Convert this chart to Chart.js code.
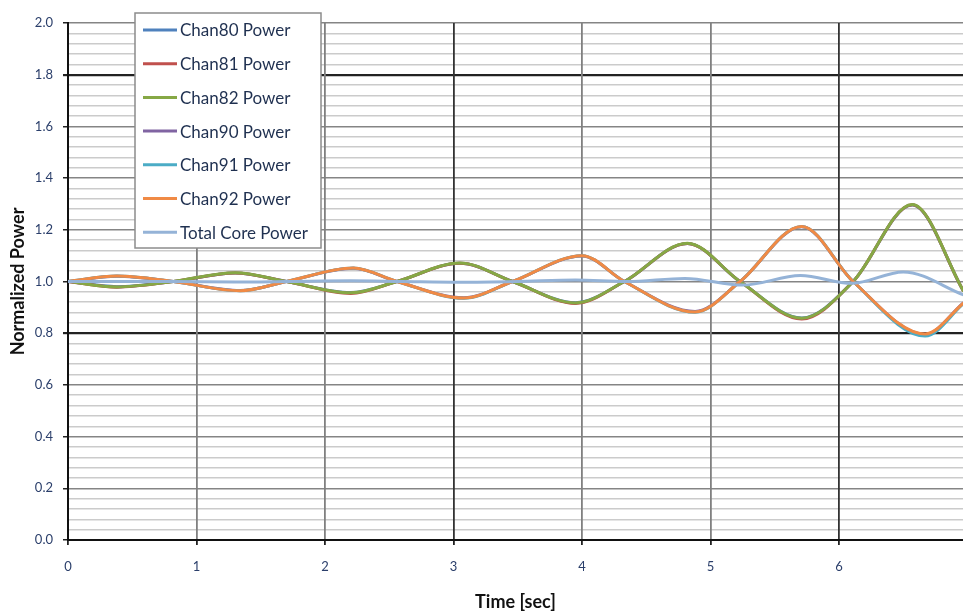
<!DOCTYPE html>
<html>
<head>
<title>Normalized Power</title>
<script src="https://cdn.jsdelivr.net/npm/chart.js@4.4.1/dist/chart.umd.min.js"></script>
<style>
body { margin: 0; background: #fff; }
</style>
</head>
<body>
<canvas id="powerChart" width="963" height="613"></canvas>
<script>
// series (time in sec, normalized power)
var seriesNames = ["Chan80 Power", "Chan81 Power", "Chan82 Power", "Chan90 Power", "Chan91 Power", "Chan92 Power", "Total Core Power"];
var seriesColors = ["#4F81BD", "#C0504D", "#86A845", "#8064A2", "#4BACC6", "#F08A45", "#95B3D7"];

// channels 80-82 (in phase)
var timeA  = [0, 0.38, 0.82, 1.30, 1.70, 2.20, 2.56, 3.05, 3.46, 3.95, 4.33, 4.82, 5.23, 5.71, 6.11, 6.57, 6.97];
var chan80 = [1.0, 0.980, 1.0, 1.033, 1.0, 0.957, 1.0, 1.071, 1.0, 0.918, 1.0, 1.147, 1.0, 0.859, 1.0, 1.296, 0.962];
var chan81 = [1.0, 0.978, 1.0, 1.033, 1.0, 0.954, 1.0, 1.071, 1.0, 0.915, 1.0, 1.147, 1.0, 0.855, 1.0, 1.297, 0.962];
var chan82 = [1.0, 0.979, 1.0, 1.034, 1.0, 0.956, 1.0, 1.072, 1.0, 0.917, 1.0, 1.148, 1.0, 0.858, 1.0, 1.298, 0.962];

// channels 90-92 (opposite phase)
var timeB  = [0, 0.38, 0.82, 1.34, 1.70, 2.22, 2.56, 3.08, 3.46, 4.00, 4.33, 4.88, 5.23, 5.71, 6.11, 6.67, 6.97];
var chan90 = [1.0, 1.020, 1.0, 0.965, 1.0, 1.051, 1.0, 0.937, 1.0, 1.099, 1.0, 0.884, 1.0, 1.212, 1.0, 0.796, 0.918];
var chan91 = [1.0, 1.021, 1.0, 0.964, 1.0, 1.052, 1.0, 0.935, 1.0, 1.100, 1.0, 0.881, 1.0, 1.213, 1.0, 0.789, 0.915];
var chan92 = [1.0, 1.021, 1.0, 0.964, 1.0, 1.052, 1.0, 0.936, 1.0, 1.100, 1.0, 0.882, 1.0, 1.213, 1.0, 0.797, 0.917];

// total core
var timeT     = [0, 0.40, 0.80, 1.30, 1.70, 2.20, 2.60, 3.05, 3.50, 3.95, 4.35, 4.80, 5.25, 5.70, 6.10, 6.50, 6.97];
var totalCore = [1.0, 1.0, 1.0, 0.998, 1.0, 1.003, 1.0, 0.997, 1.0, 1.006, 1.0, 1.012, 0.986, 1.023, 0.993, 1.037, 0.948];

function toPoints(xs, ys) {
    return ys.map(function(v, i) { return { x: xs[i], y: v }; });
}

var seriesData = [
    toPoints(timeA, chan80), toPoints(timeA, chan81), toPoints(timeA, chan82),
    toPoints(timeB, chan90), toPoints(timeB, chan91), toPoints(timeB, chan92),
    toPoints(timeT, totalCore)
];

var datasets = [];
for (var i = 0; i < seriesNames.length; i++) {
    datasets.push({
        label: seriesNames[i],
        data: seriesData[i],
        borderColor: seriesColors[i],
        backgroundColor: seriesColors[i],
        borderWidth: 3,
        pointRadius: 0,
        cubicInterpolationMode: 'monotone',
        order: seriesNames.length - i   // later series on top, like Excel
    });
}

function isMajor(v, step) {
    var r = v / step;
    return Math.abs(r - Math.round(r)) < 1e-6;
}

// legend box sitting inside the plot
var boxLegend = {
    id: 'boxLegend',
    afterDraw: function(chart) {
        var ctx = chart.ctx;
        ctx.save();
        ctx.fillStyle = '#fff';
        ctx.fillRect(135, 13, 186, 235);
        ctx.strokeStyle = '#8c8c8c';
        ctx.lineWidth = 1.5;
        ctx.strokeRect(135, 13, 186, 235);
        ctx.font = '17px Lato';
        ctx.textBaseline = 'middle';
        for (var i = 0; i < seriesNames.length; i++) {
            var y = 30 + i * 33.7;
            ctx.strokeStyle = seriesColors[i];
            ctx.lineWidth = 3;
            ctx.beginPath();
            ctx.moveTo(143, y);
            ctx.lineTo(177, y);
            ctx.stroke();
            ctx.fillStyle = '#1f3050';
            ctx.fillText(seriesNames[i], 180, y + 1);
        }
        ctx.restore();
    }
};

var ctx = document.getElementById('powerChart');
new Chart(ctx, {
    type: 'line',
    data: { datasets: datasets },
    options: {
        responsive: false,
        animation: false,
        layout: { padding: { top: 23, right: 0, left: 0, bottom: 0 } },
        plugins: { legend: { display: false }, tooltip: { enabled: false } },
        scales: {
            y: {
                min: 0,
                max: 2.0,
                afterFit: function(s) { s.width = 68; },
                border: { color: '#111', width: 2 },
                grid: {
                    drawTicks: true,
                    tickLength: 5,
                    tickColor: function(c) { return isMajor(c.tick.value, 0.2) ? '#222' : 'rgba(0,0,0,0)'; },
                    lineWidth: function(c) {
                        var v = c.tick.value;
                        if (Math.abs(v - 0.8) < 1e-6 || Math.abs(v - 1.8) < 1e-6) return 2.2;
                        return 1.5;
                    },
                    color: function(c) {
                        var v = c.tick.value;
                        if (Math.abs(v - 0.8) < 1e-6 || Math.abs(v - 1.8) < 1e-6) return '#222';
                        return isMajor(v, 0.2) ? '#858585' : '#cbcbcb';
                    }
                },
                ticks: {
                    stepSize: 0.04,
                    autoSkip: false,
                    padding: 10,
                    color: '#2b3f6b',
                    font: { family: 'Lato', size: 13 },
                    callback: function(v) { return isMajor(v, 0.2) ? v.toFixed(1) : ''; }
                },
                title: {
                    display: true,
                    text: 'Normalized Power',
                    color: '#111',
                    font: { family: 'Lato', size: 18, weight: 'bold' },
                    padding: { top: 7, bottom: 0 }
                }
            },
            x: {
                type: 'linear',
                min: 0,
                max: 6.965,
                afterFit: function(s) { s.height = 73; },
                border: { color: '#111', width: 2 },
                grid: {
                    drawTicks: true,
                    tickLength: 5,
                    tickColor: '#222',
                    lineWidth: function(c) { return isMajor(c.tick.value, 1) ? 1.8 : 0; },
                    color: function(c) {
                        var v = c.tick.value;
                        if (!isMajor(v, 1)) return 'rgba(0,0,0,0)';
                        return (Math.round(v) === 3 || Math.round(v) === 6) ? '#333' : '#808080';
                    }
                },
                ticks: {
                    stepSize: 0.2,
                    autoSkip: false,
                    includeBounds: false,
                    maxRotation: 0,
                    padding: 14,
                    color: '#2b3f6b',
                    font: { family: 'Lato', size: 13 },
                    callback: function(v) { return isMajor(v, 1) ? String(Math.round(v)) : ''; }
                },
                title: {
                    display: true,
                    text: 'Time [sec]',
                    color: '#111',
                    font: { family: 'Lato', size: 18, weight: 'bold' },
                    padding: { top: 0, bottom: 0 }
                }
            }
        }
    },
    plugins: [boxLegend]
});
</script>
</body>
</html>
